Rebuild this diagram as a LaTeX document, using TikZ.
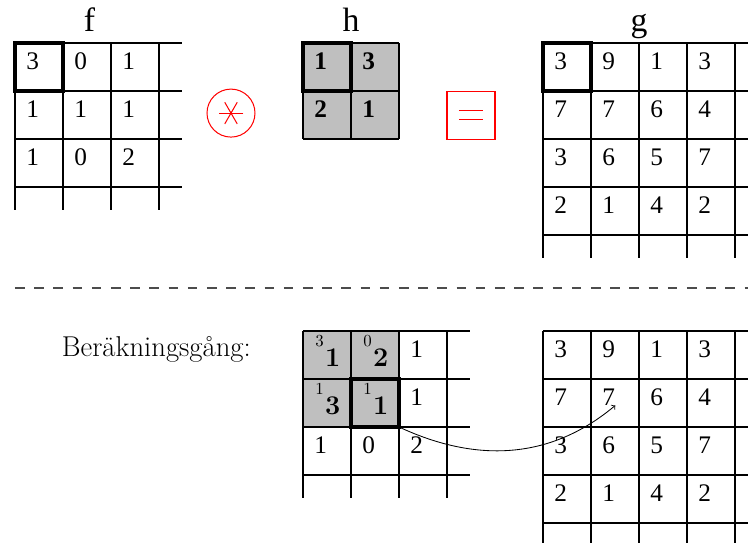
\documentclass[tikz,border=0pt]{standalone}
\usepackage{fontspec}
\newfontfamily\timesfont{Liberation Serif}
% small f-value above a large bold h-value
\newcommand{\fhpair}[2]{\raisebox{0.4cm}{\fontsize{10}{11}\selectfont #1}\hspace{0.03cm}{\fontsize{16}{18}\selectfont\bfseries #2}}

\begin{document}
\begin{tikzpicture}[>=to, scale=1.0]

	% Styles
	\tikzset{
		gridLine/.style={line width=0.7pt},
		markBox/.style={line width=2.2pt},
		cellNum/.style={anchor=north west, inner sep=0pt, font=\timesfont\fontsize{15}{17}\selectfont},
		cellBold/.style={cellNum, font=\timesfont\bfseries\fontsize{15}{17}\selectfont},
		pairNum/.style={anchor=base west, inner sep=0pt},
		gridName/.style={anchor=base, inner sep=0pt, font=\timesfont\fontsize{20}{23}\selectfont},
		opSign/.style={red, line width=0.6pt}
	}

	\useasboundingbox (-0.3125,0.896) rectangle (15.271,-10.396);

	% Grå rutor (h)
	\fill[black!25] (6,0) rectangle (8,-2);
	\fill[black!25] (6,-6) rectangle (8,-8);

	% Rutnät f
	\foreach \x in {0,1,2,3} {
		\draw[gridLine] (\x,0) -- (\x,-3.48);
	}
	\foreach \y in {0,-1,-2,-3} {
		\draw[gridLine] (0,\y) -- (3.48,\y);
	}
	% Rutnät h
	\foreach \x in {6,7,8} {
		\draw[gridLine] (\x,0) -- (\x,-2);
	}
	\foreach \y in {0,-1,-2} {
		\draw[gridLine] (6,\y) -- (8,\y);
	}
	% Rutnät g (uppe och nere)
	\foreach \oy in {0,-6} {
		\foreach \x in {11,12,13,14,15} {
			\draw[gridLine] (\x,\oy) -- (\x,\oy-4.48);
		}
		\foreach \y in {0,-1,-2,-3,-4} {
			\draw[gridLine] (11,\oy+\y) -- (15.48,\oy+\y);
		}
	}
	% Rutnät nere till vänster
	\foreach \x in {6,7,8,9} {
		\draw[gridLine] (\x,-6) -- (\x,-9.48);
	}
	\foreach \y in {-6,-7,-8,-9} {
		\draw[gridLine] (6,\y) -- (9.48,\y);
	}

	% Namn
	\node[gridName] (nameF) at (1.55,0.25) {f};
	\node[gridName] (nameH) at (7,0.25) {h};
	\node[gridName] (nameG) at (13,0.25) {g};

	% Värden i f
	\foreach \row [count=\r from 0] in {{3,0,1},{1,1,1},{1,0,2}} {
		\foreach \v [count=\c from 0] in \row {
			\node[cellNum] (f-\r-\c) at (\c+0.23,-\r-0.19) {\v};
		}
	}
	% Värden i h
	\foreach \row [count=\r from 0] in {{1,3},{2,1}} {
		\foreach \v [count=\c from 0] in \row {
			\node[cellBold] (h-\r-\c) at (6+\c+0.23,-\r-0.19) {\v};
		}
	}
	% Värden i g (uppe: g, nere: r)
	\foreach \oy/\nm in {0/g,-6/r} {
		\foreach \row [count=\r from 0] in {{3,9,1,3},{7,7,6,4},{3,6,5,7},{2,1,4,2}} {
			\foreach \v [count=\c from 0] in \row {
				\node[cellNum] (\nm-\r-\c) at (11+\c+0.23,\oy-\r-0.19) {\v};
			}
		}
	}
	% Beräkningsgång
	\node[anchor=base west, inner sep=0pt, font=\fontsize{17}{20}\selectfont] (steps) at (0.97,-6.535) {Beräkningsgång:};
	\foreach \r/\c/\a/\b in {0/0/3/1, 0/1/0/2, 1/0/1/3, 1/1/1/1} {
		\node[pairNum] (p-\r-\c) at (6+\c+0.25,-6-\r-0.73) {\fhpair{\a}{\b}};
	}
	\foreach \r/\c/\v in {0/2/1, 1/2/1, 2/0/1, 2/1/0, 2/2/2} {
		\node[cellNum] (b-\r-\c) at (6+\c+0.23,-6-\r-0.19) {\v};
	}

	% Markerade rutor
	\draw[markBox] (0,0) rectangle (1,-1);
	\draw[markBox] (6,0) rectangle (7,-1);
	\draw[markBox] (11,0) rectangle (12,-1);
	\draw[markBox] (7,-7) rectangle (8,-8);

	% Operatorer
	\node[draw=red, circle, minimum size=1cm, inner sep=0pt, line width=0.6pt] (conv) at (4.5,-1.46) {};
	\foreach \a in {0,60,120} {
		\draw[opSign] (conv.center) ++(\a:0.26) -- ++(\a+180:0.52);
	}
	\node[draw=red, minimum size=1cm, inner sep=0pt, line width=0.6pt] (eq) at (9.5,-1.5) {};
	\draw[opSign] ([xshift=-0.25cm, yshift=0.095cm]eq.center) -- ++(0.5,0);
	\draw[opSign] ([xshift=-0.25cm, yshift=-0.095cm]eq.center) -- ++(0.5,0);

	% Streckad skiljelinje
	\draw[black!70, line width=0.9pt, dash pattern=on 0.2cm off 0.2cm] (0,-5.1) -- (15.5,-5.1);

	% Pil till resultatet
	\coordinate (startPt) at (8,-8);
	\draw[->, line width=0.5pt] (startPt) to[out=-25, in=220] (r-1-1.south east);

\end{tikzpicture}
\end{document}
